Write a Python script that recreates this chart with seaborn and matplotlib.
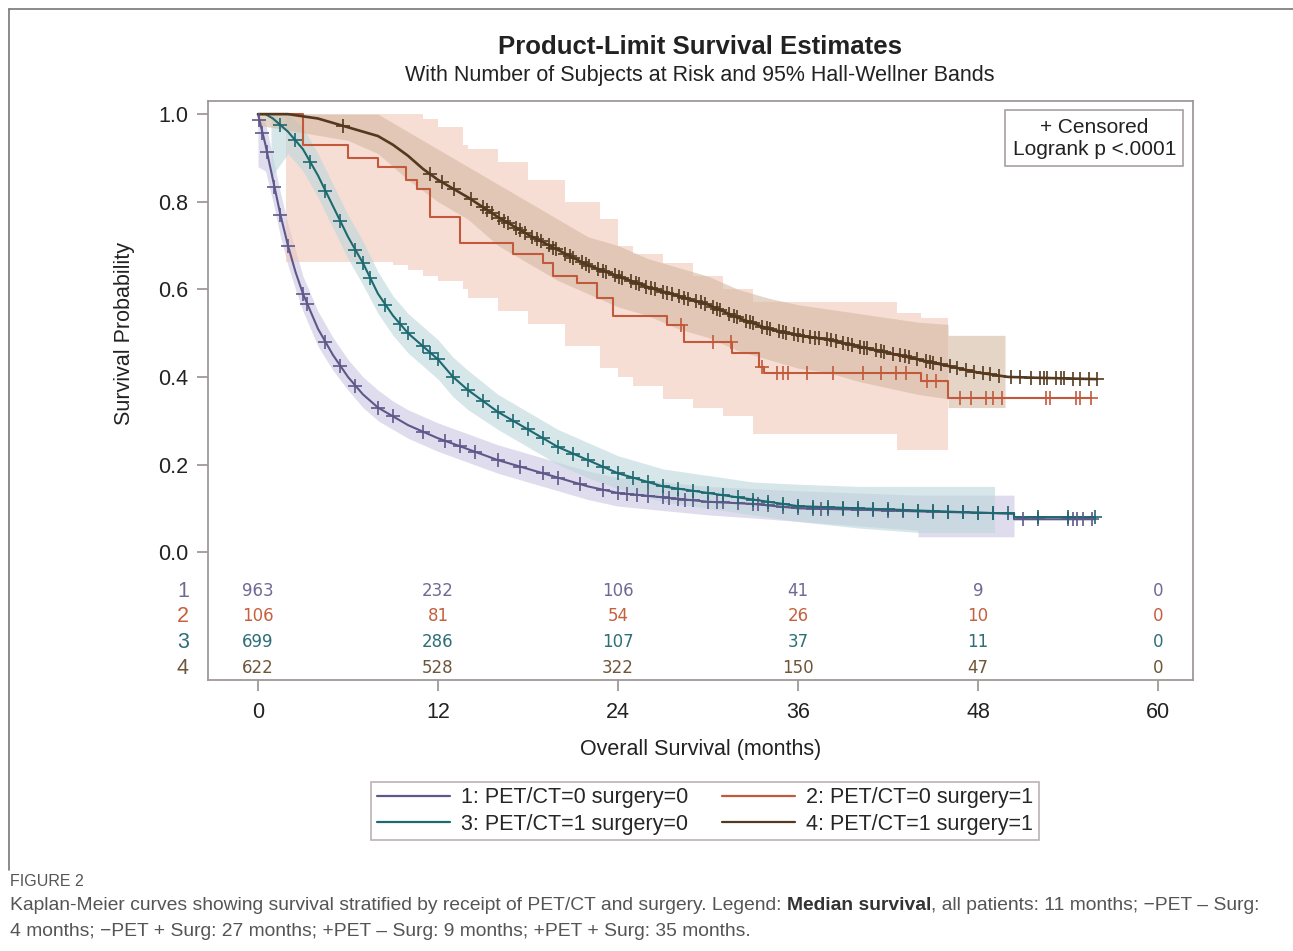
import numpy as np
import pandas as pd
import matplotlib
matplotlib.use('Agg')
import matplotlib.pyplot as plt
from matplotlib.lines import Line2D
import seaborn as sns

# ---- data ----
labels = ['1: PET/CT=0 surgery=0', '2: PET/CT=0 surgery=1',
          '3: PET/CT=1 surgery=0', '4: PET/CT=1 surgery=1']

t1 = [0, 0.5, 1, 1.5, 2, 2.5, 3, 3.5, 4, 5, 6, 7, 8, 9, 10, 11, 12, 14, 16, 18, 20, 22, 24, 27, 30, 33, 36, 40, 44, 48, 50.4, 50.4, 55.7]
s1 = [1.0, 0.93, 0.85, 0.77, 0.70, 0.64, 0.59, 0.55, 0.51, 0.45, 0.40, 0.36, 0.33, 0.31, 0.29, 0.275, 0.26, 0.235, 0.21, 0.19, 0.17, 0.15, 0.135, 0.125, 0.115, 0.11, 0.10, 0.097, 0.093, 0.09, 0.088, 0.075, 0.075]

t2 = [0, 3, 6, 8, 9.9, 10.6, 11.5, 13.5, 17, 19, 19.7, 21.3, 22.6, 23.7, 27.3, 28.4, 31.6, 33.4, 33.7, 44.2, 46, 55.5]
s2 = [1.0, 0.93, 0.90, 0.88, 0.85, 0.83, 0.765, 0.705, 0.68, 0.66, 0.63, 0.615, 0.58, 0.54, 0.518, 0.48, 0.455, 0.423, 0.41, 0.39, 0.352, 0.352]

t3 = [0, 0.5, 1, 2, 3, 4, 5, 6, 7, 8, 9, 10, 11, 12, 13, 14, 16, 18, 20, 22, 24, 27, 30, 33, 36, 40, 44, 48, 50.4, 50.4, 55.8]
s3 = [1.0, 1.0, 0.99, 0.96, 0.92, 0.86, 0.79, 0.72, 0.66, 0.59, 0.54, 0.50, 0.47, 0.44, 0.40, 0.37, 0.32, 0.28, 0.24, 0.21, 0.18, 0.15, 0.135, 0.12, 0.105, 0.10, 0.095, 0.09, 0.088, 0.08, 0.08]

t4 = [0, 2, 4, 6, 8, 9, 10, 11, 12, 14, 16, 18, 20, 22, 24, 26, 28, 30, 32, 34, 36, 38, 40, 42, 44, 46, 48, 50, 52, 55.9]
s4 = [1.0, 1.0, 0.99, 0.97, 0.95, 0.93, 0.905, 0.875, 0.85, 0.81, 0.765, 0.725, 0.69, 0.655, 0.63, 0.605, 0.585, 0.565, 0.535, 0.51, 0.495, 0.485, 0.47, 0.455, 0.44, 0.425, 0.41, 0.40, 0.398, 0.395]

# Hall-Wellner bands
b1_t = [0, 0.5, 1, 1.5, 2, 2.5, 3, 3.5, 4, 5, 6, 7, 8, 9, 10, 11, 12, 14, 16, 18, 20, 22, 24, 27, 30, 33, 36, 40, 44, 44, 50.4]
b1_lo = [0.88, 0.87, 0.80, 0.72, 0.655, 0.60, 0.55, 0.51, 0.47, 0.415, 0.37, 0.33, 0.30, 0.28, 0.26, 0.245, 0.23, 0.205, 0.18, 0.16, 0.14, 0.12, 0.105, 0.095, 0.085, 0.078, 0.07, 0.06, 0.05, 0.035, 0.035]
b1_hi = [1.0, 0.98, 0.90, 0.82, 0.75, 0.69, 0.63, 0.59, 0.55, 0.49, 0.44, 0.40, 0.37, 0.345, 0.325, 0.31, 0.295, 0.27, 0.245, 0.225, 0.205, 0.185, 0.17, 0.16, 0.15, 0.145, 0.14, 0.135, 0.13, 0.13, 0.13]

b2_t = [1.9, 9, 10, 11, 12, 13.7, 14, 16, 18, 20.5, 22.8, 24, 25, 27, 29, 31, 33, 42.6, 44.2, 46]
b2_lo = [0.662, 0.655, 0.645, 0.63, 0.62, 0.60, 0.58, 0.55, 0.52, 0.47, 0.42, 0.40, 0.38, 0.35, 0.33, 0.31, 0.27, 0.233, 0.233, 0.233]
b2_hi = [1.0, 1.0, 1.0, 0.99, 0.97, 0.93, 0.92, 0.89, 0.85, 0.80, 0.76, 0.70, 0.68, 0.66, 0.63, 0.60, 0.57, 0.545, 0.535, 0.535]

b3_t = [0.87, 0.87, 2, 3, 4, 5, 6, 7, 8, 9, 10, 11, 12, 13, 14, 16, 18, 20, 22, 24, 27, 30, 33, 36, 40, 44, 49.1]
b3_lo = [1.0, 0.855, 0.91, 0.87, 0.81, 0.74, 0.67, 0.61, 0.545, 0.495, 0.455, 0.425, 0.395, 0.355, 0.325, 0.28, 0.24, 0.20, 0.17, 0.145, 0.115, 0.10, 0.085, 0.07, 0.055, 0.045, 0.045]
b3_hi = [1.0, 1.0, 1.0, 0.97, 0.91, 0.84, 0.77, 0.71, 0.64, 0.585, 0.545, 0.515, 0.485, 0.445, 0.415, 0.36, 0.32, 0.28, 0.25, 0.22, 0.19, 0.175, 0.16, 0.155, 0.15, 0.15, 0.15]

b4_t = [0, 6, 8, 10, 12, 14, 16, 18, 20, 22, 24, 26, 28, 30, 32, 34, 36, 38, 40, 42, 44, 46, 46, 49.8]
b4_lo = [0.975, 0.94, 0.91, 0.85, 0.80, 0.76, 0.70, 0.66, 0.62, 0.59, 0.56, 0.54, 0.51, 0.49, 0.46, 0.44, 0.42, 0.41, 0.39, 0.375, 0.36, 0.35, 0.33, 0.33]
b4_hi = [1.0, 1.0, 1.0, 0.96, 0.92, 0.88, 0.84, 0.80, 0.76, 0.72, 0.70, 0.67, 0.65, 0.63, 0.60, 0.58, 0.565, 0.555, 0.545, 0.535, 0.525, 0.52, 0.495, 0.495]

# censored times
c1 = [0.1, 0.3, 0.6, 1.1, 1.5, 2.0, 3.0, 3.3, 4.5, 5.5, 6.5, 8.0, 9.0, 11.0, 12.5, 13.5, 14.5, 16.0, 17.5, 19, 20, 21.5, 23, 24, 24.6, 25.3, 26, 27, 27.4, 28, 28.5, 29, 30, 30.6, 31, 32, 33, 33.3, 34, 35, 36, 37, 37.5, 38, 39, 40, 41, 42, 43, 44, 45, 46, 47, 48, 49, 51, 52, 54, 54.3, 54.6, 55, 55.6]
c2 = [28.2, 30.3, 31.5, 33.6, 34.6, 35.0, 35.3, 36.6, 38.3, 40.3, 41.5, 42.5, 43.2, 44.6, 45.2, 46.8, 47.5, 48.5, 49.0, 49.6, 52.5, 52.8, 54.5, 54.8, 55.5]
c3 = [1.5, 2.5, 3.5, 4.5, 5.5, 6.5, 7.0, 7.5, 8.5, 9.5, 10, 11, 11.5, 12, 13, 14, 15, 16, 17, 18, 19, 20, 21, 22, 23, 24, 25, 26, 27, 28, 29, 30, 31, 32, 33, 34, 35, 36, 37, 38, 39, 40, 41, 42, 43, 44, 45, 46, 47, 48, 49, 50, 52, 54, 55.8]
c4 = [5.7, 11.5, 12.3, 13.1, 14.2, 15.0, 15.3, 15.6, 16.1, 16.4, 16.7, 17.2, 17.5, 17.8, 18.3, 18.6, 18.9, 19.4, 19.7, 19.9, 20.5, 20.8, 21.0, 21.6, 21.9,
      22.1, 22.7, 23.0, 23.2, 23.8, 24.1, 24.3, 24.9, 25.2, 25.4, 25.9, 26.2, 26.5, 27.0, 27.3, 27.6, 28.1, 28.4, 28.7, 29.2, 29.5, 29.8, 30.3, 30.6,
      30.8, 31.4, 31.7, 31.9, 32.5, 32.8, 33.0, 33.6, 33.9, 34.1, 34.7, 35.0, 35.2, 35.7, 36.0, 36.3, 36.8, 37.1, 37.4, 37.9, 38.2, 38.5, 39.0, 39.3,
      39.6, 40.1, 40.4, 40.6, 41.2, 41.5, 41.7, 42.3, 42.8, 43.1, 43.4, 43.9, 44.5, 44.8, 45.0, 45.5, 46.1, 46.6, 47.2, 47.7, 48.3, 48.8, 49.4, 50.2,
      50.8, 51.5, 52.1, 52.4, 52.6, 53.2, 53.5, 53.7, 54.3, 54.8, 55.4, 55.9]

# number at risk
risk_times = [0, 12, 24, 36, 48, 60]
risk1 = [963, 232, 106, 41, 9, 0]
risk2 = [106, 81, 54, 26, 10, 0]
risk3 = [699, 286, 107, 37, 11, 0]
risk4 = [622, 528, 322, 150, 47, 0]

line_cols = ['#5d5889', '#c2593b', '#1d6970', '#54391f']
band_cols = ['#cbc6e2', '#f2c9b9', '#bcd6db', '#d4b9a2']
risk_cols = ['#6e6a95', '#c5603f', '#2e6f77', '#6f5539']
line_widths = [1.5, 1.5, 1.5, 1.9]

sns.set_theme(style='white')
plt.rcParams['font.family'] = ['Liberation Sans', 'DejaVu Sans']

fig = plt.figure(figsize=(12.93, 9.51), dpi=100)
ax = fig.add_axes([208 / 1293, 1 - 680 / 951, 985 / 1293, 579 / 951])

curves = [(t1, s1), (t2, s2), (t3, s3), (t4, s4)]
bands = [(b1_t, b1_lo, b1_hi), (b2_t, b2_lo, b2_hi), (b3_t, b3_lo, b3_hi), (b4_t, b4_lo, b4_hi)]
cens = [c1, c2, c3, c4]
stepped = [False, True, False, False]

for (bt, lo, hi), col, st in zip(bands, band_cols, stepped):
    ax.fill_between(bt, lo, hi, step='post' if st else None, color=col, alpha=0.6, linewidth=0)

rows = []
for lab, (t, s) in zip(labels, curves):
    for a, b in zip(t, s):
        rows.append({'time': a, 'surv': b, 'group': lab})
df = pd.DataFrame(rows)

for lab, col, lw, st in zip(labels, line_cols, line_widths, stepped):
    sns.lineplot(data=df[df['group'] == lab], x='time', y='surv', color=col,
                 estimator=None, sort=False, drawstyle='steps-post' if st else 'default',
                 linewidth=lw, ax=ax, legend=False)

for (t, s), c, col, st in zip(curves, cens, line_cols, stepped):
    t = np.array(t)
    s = np.array(s)
    c = np.array(c)
    if st:
        yc = s[np.searchsorted(t, c, side='right') - 1]
    else:
        yc = np.interp(c, t, s)
    ax.plot(c, yc, linestyle='none', marker='+', markersize=9.5, markeredgewidth=1.2, color=col)

ax.set_xlim(-3.33, 62.33)
ax.set_ylim(-0.292, 1.030)
ax.set_xticks([0, 12, 24, 36, 48, 60])
ax.set_yticks([0.0, 0.2, 0.4, 0.6, 0.8, 1.0])
ax.set_yticklabels(['0.0', '0.2', '0.4', '0.6', '0.8', '1.0'])
ax.tick_params(axis='both', which='major', direction='out', length=8, width=1.2,
               color='#9a9090', labelsize=15.5, labelcolor='#222222', pad=6, left=True, bottom=True)
ax.tick_params(axis='x', pad=8)
for sp in ax.spines.values():
    sp.set_color('#a09898')
    sp.set_linewidth(1.3)

ax.set_xlabel('Overall Survival (months)', fontsize=15.5, color='#222222', labelpad=11)
ax.set_ylabel('Survival Probability', fontsize=15.5, color='#222222')
ax.yaxis.set_label_coords(-0.074, 0.599)

# risk table
risk_y = [-0.089, -0.146, -0.206, -0.265]
for r, (vals, col, yy) in enumerate(zip([risk1, risk2, risk3, risk4], risk_cols, risk_y)):
    for xt, v in zip(risk_times, vals):
        ax.text(xt, yy, str(v), ha='center', va='center', fontsize=12, color=col, family='DejaVu Sans')
    ax.text(-5.0, yy, str(r + 1), ha='center', va='center', fontsize=15.5, color=col, clip_on=False)

# inset legend
ax.text(55.75, 0.945, '+ Censored\nLogrank p <.0001', ha='center', va='center', fontsize=15,
        color='#222222', linespacing=1.2,
        bbox=dict(boxstyle='square,pad=0.35', facecolor='white', edgecolor='#a8a0a0', linewidth=1.2))

fig.text(700 / 1293, 1 - 47 / 951, 'Product-Limit Survival Estimates', ha='center', va='center',
         fontsize=18.5, fontweight='bold', color='#222222')
fig.text(700 / 1293, 1 - 76 / 951, 'With Number of Subjects at Risk and 95% Hall-Wellner Bands',
         ha='center', va='center', fontsize=15.5, color='#222222')

handles = [Line2D([], [], color=c, linewidth=1.6) for c in line_cols]
order = [0, 2, 1, 3]
leg = fig.legend([handles[i] for i in order], [labels[i] for i in order], ncol=2, loc='center',
                 bbox_to_anchor=(705 / 1293, 1 - 811 / 951), frameon=True, fancybox=False,
                 fontsize=15.5, handlelength=3.4, handletextpad=0.5, columnspacing=1.6,
                 labelspacing=0.25, borderpad=0.25)
leg.get_frame().set_edgecolor('#a8a0a0')
leg.get_frame().set_linewidth(1.2)

# outer frame
fig.add_artist(Line2D([9 / 1293, 1.0], [1 - 9 / 951, 1 - 9 / 951], color='#777777', linewidth=1.2))
fig.add_artist(Line2D([9 / 1293, 9 / 1293], [1 - 9 / 951, 1 - 870 / 951], color='#777777', linewidth=1.2))

# caption
fig.text(10 / 1293, 1 - 881 / 951, 'FIGURE 2', ha='left', va='center', fontsize=11.5, color='#555555')
renderer = fig.canvas.get_renderer()
parts = [('Kaplan-Meier curves showing survival stratified by receipt of PET/CT and surgery. Legend: ', 'normal', '#555555'),
         ('Median survival', 'bold', '#333333'),
         (', all patients: 11 months; \u2212PET \u2013 Surg:', 'normal', '#555555')]
x = 10 / 1293
for txt, w, col in parts:
    tt = fig.text(x, 1 - 906 / 951, txt, ha='left', va='center', fontsize=13.9, color=col, fontweight=w)
    bb = tt.get_window_extent(renderer=renderer)
    x += bb.width / 1293
fig.text(10 / 1293, 1 - 931 / 951,
         '4 months; \u2212PET + Surg: 27 months; +PET \u2013 Surg: 9 months; +PET + Surg: 35 months.',
         ha='left', va='center', fontsize=13.9, color='#555555')

fig.savefig('out.png', dpi=100)
